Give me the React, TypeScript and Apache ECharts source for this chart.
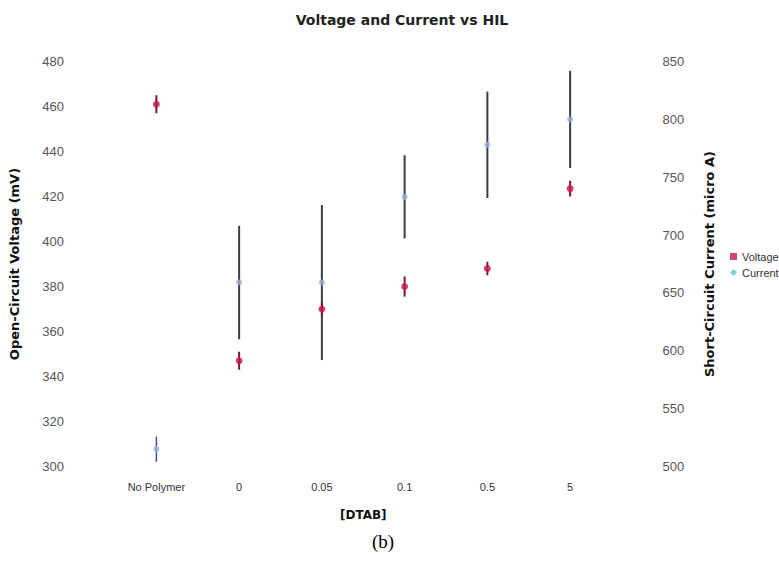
import React, { useEffect, useRef } from "react";
import * as echarts from "echarts";

const categories = ["No Polymer", "0", "0.05", "0.1", "0.5", "5"];
const voltageMean = [461, 347, 370, 380, 388, 423.5];
const voltageErr = [4, 4, 3, 4.5, 3, 3.5];
const currentMean = [515, 659, 659, 733, 778, 800];
const currentErr = [11, 49, 67, 36, 46, 42];
const voltageTicks = { min: 300, max: 480, interval: 20 };
const currentTicks = { min: 500, max: 850, interval: 50 };

const makeBar = (color: string, width: number, firstColor?: string) => (params: any, api: any) => {
  const x = api.value(0);
  const p1 = api.coord([x, api.value(1)]);
  const p2 = api.coord([x, api.value(2)]);
  const first = params.dataIndex === 0 && firstColor;
  return {
    type: "line",
    shape: { x1: p1[0], y1: p1[1], x2: p2[0], y2: p2[1] },
    style: { stroke: first ? firstColor : color, lineWidth: first ? 1.5 : width },
  };
};

export default function App() {
  const ref = useRef<HTMLDivElement>(null);
  useEffect(() => {
    if (!ref.current) return;
    const chart = echarts.init(ref.current, null, { renderer: "svg" });
    const vBars = categories.map((_, i) => [i, voltageMean[i] - voltageErr[i], voltageMean[i] + voltageErr[i]]);
    const cBars = categories.map((_, i) => [i, currentMean[i] - currentErr[i], currentMean[i] + currentErr[i]]);
    const tickLabel = { color: "#555", fontSize: 13, fontFamily: "Liberation Sans", margin: 51 };
    const axisName = { color: "#111", fontSize: 13, fontWeight: "bold", fontFamily: "DejaVu Sans" };
    chart.setOption({
      animation: false,
      backgroundColor: "#fff",
      title: {
        text: "Voltage and Current vs HIL",
        left: 397,
        top: 8,
        textAlign: "center",
        textStyle: { fontFamily: "DejaVu Sans", fontWeight: "bold", fontSize: 14, color: "#222" },
      },
      legend: {
        orient: "vertical",
        left: 725,
        top: 246,
        itemWidth: 7,
        itemHeight: 7,
        itemGap: 5,
        textStyle: { fontSize: 11, fontFamily: "Liberation Sans", color: "#333" },
        data: [
          { name: "Voltage", icon: "rect", itemStyle: { color: "#c8174a" } },
          { name: "Current", icon: "diamond", itemStyle: { color: "#5ec8d8" } },
        ],
      },
      grid: { left: 113.5, right: 167.5, top: 61.5, bottom: 102.5, containLabel: false },
      xAxis: {
        type: "category",
        data: categories,
        boundaryGap: true,
        axisLine: { show: false },
        axisTick: { show: false },
        axisLabel: { color: "#333", fontSize: 11, fontFamily: "Liberation Sans", margin: 15 },
        name: "[DTAB]",
        nameLocation: "middle",
        nameGap: 42,
        nameTextStyle: { ...axisName, fontSize: 12 },
      },
      yAxis: [
        {
          type: "value",
          ...voltageTicks,
          axisLine: { show: false },
          axisTick: { show: false },
          splitLine: { show: false },
          axisLabel: tickLabel,
          name: "Open-Circuit Voltage (mV)",
          nameLocation: "middle",
          nameGap: 94,
          nameTextStyle: axisName,
        },
        {
          type: "value",
          position: "right",
          ...currentTicks,
          axisLine: { show: false },
          axisTick: { show: false },
          splitLine: { show: false },
          axisLabel: tickLabel,
          name: "Short-Circuit Current (micro A)",
          nameLocation: "middle",
          nameGap: 91,
          nameTextStyle: axisName,
        },
      ],
      series: [
        {
          name: "Current err",
          type: "custom",
          yAxisIndex: 1,
          renderItem: makeBar("#3d3d3d", 2, "#4b4b8f"),
          encode: { x: 0, y: [1, 2] },
          data: cBars,
          z: 2,
        },
        {
          name: "Current",
          type: "scatter",
          yAxisIndex: 1,
          symbol: "circle",
          symbolSize: 6,
          itemStyle: { color: "#9aaee0" },
          data: currentMean.map((v, i) => [i, v]),
          z: 3,
        },
        {
          name: "Voltage err",
          type: "custom",
          yAxisIndex: 0,
          renderItem: makeBar("#7a1636", 2),
          encode: { x: 0, y: [1, 2] },
          data: vBars,
          z: 4,
        },
        {
          name: "Voltage",
          type: "scatter",
          yAxisIndex: 0,
          symbol: "circle",
          symbolSize: 7,
          itemStyle: { color: "#c8174a" },
          data: voltageMean.map((v, i) => [i, v]),
          z: 5,
        },
      ],
      graphic: [
        {
          type: "text",
          x: 383,
          y: 541,
          style: {
            text: "(b)",
            fontSize: 19,
            fontFamily: "Liberation Serif",
            fill: "#000",
            align: "center",
            verticalAlign: "middle",
          },
        },
      ],
    });
    return () => chart.dispose();
  }, []);
  return (
    <div
      ref={ref}
      style={{ position: "fixed", left: 0, top: 0, width: 779, height: 569 }}
    />
  );
}
